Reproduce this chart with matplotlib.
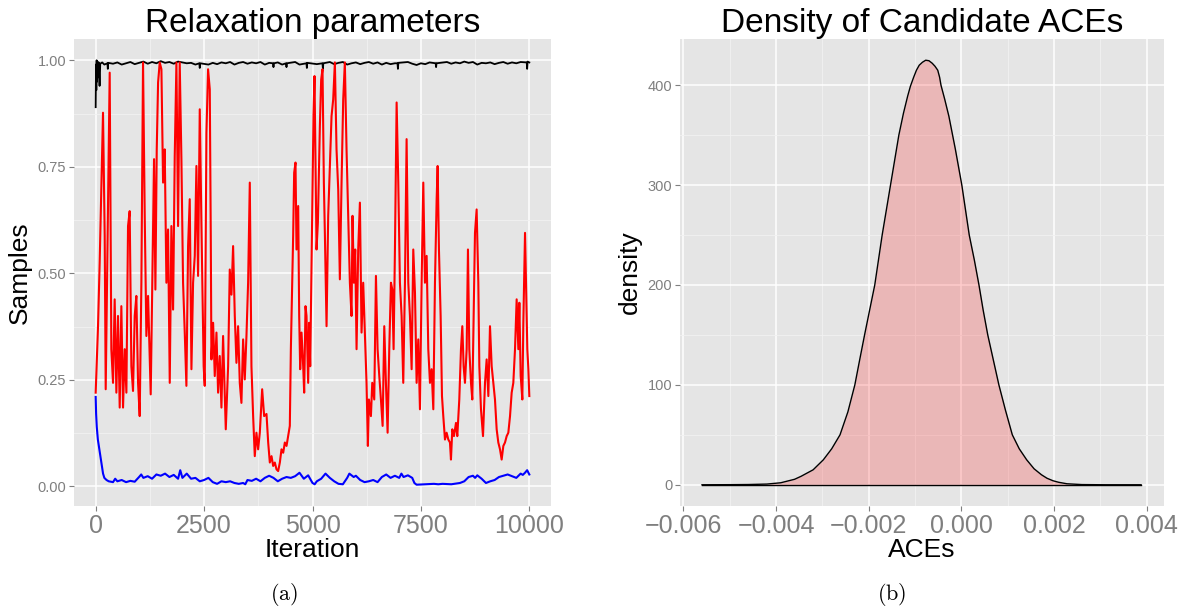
import matplotlib
matplotlib.use("Agg")
import matplotlib.pyplot as plt
from matplotlib.ticker import MultipleLocator

plt.rcParams['font.family'] = ['Liberation Sans', 'DejaVu Sans']
plt.rcParams['mathtext.fontset'] = 'cm'

# ---- panel (a): MCMC traces of the relaxation parameters ----
red_iter = [0, 54, 92, 169, 208, 231, 323, 361, 400, 438, 477, 515, 554, 592, 631, 669, 708,
            746, 784, 823, 861, 900, 938, 977, 1015, 1054, 1092, 1131, 1169, 1208, 1246, 1269,
            1300, 1346, 1377, 1408, 1439, 1477, 1516, 1554, 1592, 1631, 1669, 1708, 1746, 1785,
            1823, 1862, 1900, 1938, 1977, 2015, 2054, 2092, 2131, 2169, 2208, 2246, 2285, 2323,
            2361, 2400, 2438, 2490, 2515, 2554, 2592, 2631, 2654, 2669, 2708, 2746, 2785, 2823,
            2861, 2900, 2938, 2977, 3000, 3054, 3092, 3131, 3169, 3208, 3246, 3284, 3323, 3361,
            3400, 3438, 3477, 3515, 3554, 3592, 3631, 3669, 3707, 3746, 3785, 3839, 3885, 3939,
            3978, 4016, 4055, 4093, 4131, 4170, 4208, 4247, 4285, 4324, 4362, 4401, 4439, 4477,
            4501, 4531, 4554, 4577, 4608, 4631, 4670, 4693, 4716, 4747, 4785, 4808, 4839, 4862,
            4900, 4923, 4947, 4977, 5000, 5023, 5046, 5093, 5124, 5147, 5170, 5200, 5231, 5262,
            5285, 5324, 5362, 5400, 5439, 5477, 5516, 5554, 5593, 5631, 5670, 5708, 5746, 5785,
            5823, 5862, 5900, 5923, 5954, 5985, 6016, 6054, 6093, 6131, 6169, 6208, 6246, 6277,
            6301, 6347, 6378, 6424, 6463, 6501, 6540, 6578, 6617, 6655, 6693, 6732, 6770, 6809,
            6840, 6870, 6901, 6940, 6978, 7016, 7055, 7093, 7132, 7170, 7209, 7247, 7286, 7324,
            7363, 7401, 7439, 7478, 7516, 7555, 7593, 7632, 7670, 7709, 7747, 7786, 7824, 7863,
            7886, 7916, 7955, 7986, 8016, 8055, 8093, 8132, 8170, 8193, 8224, 8262, 8309, 8339,
            8385, 8424, 8455, 8485, 8516, 8555, 8585, 8616, 8655, 8685, 8716, 8747, 8785, 8824,
            8847, 8885, 8932, 8978, 9016, 9055, 9093, 9132, 9170, 9208, 9247, 9285, 9324, 9362,
            9401, 9439, 9478, 9516, 9555, 9593, 9631, 9670, 9708, 9747, 9770, 9801, 9839, 9862,
            9901, 9924, 9954, 9978, 10000]
red_val = [0.22, 0.376, 0.525, 0.877, 0.588, 0.228, 0.971, 0.322, 0.243, 0.439, 0.22, 0.40,
           0.185, 0.423, 0.185, 0.322, 0.22, 0.611, 0.646, 0.282, 0.224, 0.40, 0.447, 0.243,
           0.165, 0.478, 0.995, 0.635, 0.353, 0.447, 0.298, 0.216, 0.439, 0.768, 0.462, 0.791,
           0.948, 0.995, 0.979, 0.713, 0.791, 0.478, 0.603, 0.243, 0.611, 0.415, 0.775, 0.995,
           0.611, 0.995, 0.768, 0.478, 0.361, 0.236, 0.564, 0.674, 0.275, 0.478, 0.541, 0.752,
           0.494, 0.885, 0.619, 0.282, 0.236, 0.83, 0.979, 0.932, 0.588, 0.298, 0.384, 0.259,
           0.361, 0.22, 0.306, 0.185, 0.353, 0.22, 0.134, 0.282, 0.509, 0.45, 0.564, 0.40,
           0.29, 0.376, 0.243, 0.196, 0.345, 0.251, 0.353, 0.478, 0.713, 0.282, 0.165, 0.071,
           0.126, 0.087, 0.126, 0.228, 0.165, 0.17, 0.103, 0.056, 0.071, 0.048, 0.056, 0.04,
           0.036, 0.056, 0.087, 0.079, 0.103, 0.095, 0.118, 0.142, 0.322, 0.478, 0.588, 0.736,
           0.76, 0.556, 0.658, 0.40, 0.275, 0.361, 0.282, 0.22, 0.423, 0.40, 0.243, 0.384,
           0.282, 0.517, 0.713, 0.869, 0.963, 0.556, 0.619, 0.728, 0.846, 0.955, 0.979, 0.713,
           0.595, 0.376, 0.635, 0.752, 0.869, 0.908, 0.995, 0.791, 0.697, 0.486, 0.713, 0.908,
           0.995, 0.791, 0.635, 0.478, 0.40, 0.635, 0.478, 0.556, 0.322, 0.556, 0.666, 0.361,
           0.478, 0.361, 0.243, 0.095, 0.204, 0.165, 0.243, 0.204, 0.494, 0.322, 0.259, 0.204,
           0.142, 0.376, 0.243, 0.126, 0.322, 0.478, 0.462, 0.322, 0.556, 0.901, 0.713, 0.478,
           0.40, 0.243, 0.478, 0.815, 0.478, 0.40, 0.275, 0.556, 0.455, 0.243, 0.345, 0.181,
           0.478, 0.713, 0.478, 0.541, 0.322, 0.243, 0.275, 0.181, 0.478, 0.674, 0.752, 0.556,
           0.40, 0.212, 0.165, 0.11, 0.126, 0.11, 0.103, 0.063, 0.134, 0.118, 0.149, 0.118,
           0.204, 0.322, 0.376, 0.282, 0.243, 0.322, 0.556, 0.322, 0.243, 0.204, 0.40, 0.595,
           0.65, 0.478, 0.282, 0.181, 0.118, 0.243, 0.298, 0.212, 0.376, 0.282, 0.243, 0.204,
           0.134, 0.103, 0.087, 0.063, 0.095, 0.103, 0.118, 0.126, 0.165, 0.22, 0.243, 0.322,
           0.439, 0.322, 0.431, 0.259, 0.204, 0.384, 0.595, 0.478, 0.322, 0.275, 0.212]

black_iter = [0, 8, 15, 22, 30, 40, 55, 70, 90, 105, 150, 200, 270, 280, 290, 400, 500, 600,
              700, 800, 900, 1000, 1100, 1200, 1300, 1400, 1500, 1600, 1700, 1800, 1900, 2000,
              2100, 2200, 2300, 2390, 2400, 2410, 2600, 2700, 2800, 2900, 3000, 3100, 3200,
              3300, 3400, 3500, 3600, 3700, 3800, 3900, 4000, 4090, 4100, 4110, 4200, 4300,
              4390, 4400, 4410, 4600, 4700, 4860, 4870, 4880, 5100, 5230, 5240, 5250, 5400,
              5500, 5600, 5700, 5800, 5900, 6000, 6100, 6200, 6300, 6400, 6500, 6600, 6700,
              6800, 6900, 6960, 6970, 6980, 7200, 7300, 7400, 7500, 7600, 7700, 7840, 7850,
              7860, 8100, 8200, 8300, 8400, 8500, 8600, 8700, 8800, 8900, 9000, 9100, 9200,
              9300, 9400, 9500, 9600, 9700, 9800, 9940, 9950, 9960, 10000]
black_val = [0.89, 0.99, 0.93, 1.0, 0.95, 0.997, 0.96, 0.995, 0.94, 0.992, 0.995, 0.99, 0.993,
             0.98, 0.994, 0.992, 0.995, 0.99, 0.993, 0.996, 0.991, 0.994, 0.997, 0.992, 0.996,
             0.993, 0.998, 0.994, 0.996, 0.992, 0.997, 0.995, 0.993, 0.994, 0.99, 0.993, 0.982,
             0.993, 0.99, 0.994, 0.991, 0.995, 0.993, 0.996, 0.99, 0.994, 0.996, 0.992, 0.995,
             0.993, 0.996, 0.99, 0.994, 0.993, 0.984, 0.993, 0.995, 0.99, 0.993, 0.984, 0.993,
             0.996, 0.99, 0.993, 0.982, 0.994, 0.991, 0.993, 0.98, 0.993, 0.996, 0.991, 0.994,
             0.996, 0.99, 0.993, 0.995, 0.991, 0.994, 0.996, 0.992, 0.995, 0.99, 0.994, 0.991,
             0.993, 0.993, 0.98, 0.994, 0.996, 0.992, 0.989, 0.993, 0.991, 0.995, 0.993, 0.984,
             0.993, 0.996, 0.992, 0.995, 0.993, 0.997, 0.994, 0.996, 0.99, 0.994, 0.993, 0.995,
             0.991, 0.994, 0.996, 0.992, 0.995, 0.993, 0.996, 0.995, 0.98, 0.997, 0.995]

blue_iter = [0, 10, 25, 50, 80, 110, 140, 170, 200, 250, 300, 400, 450, 500, 600, 700, 800,
             900, 1000, 1050, 1100, 1200, 1300, 1400, 1500, 1600, 1700, 1800, 1900, 1950,
             2000, 2100, 2200, 2300, 2400, 2500, 2600, 2700, 2800, 2900, 3000, 3100, 3200,
             3300, 3400, 3450, 3500, 3600, 3700, 3800, 3900, 4000, 4100, 4200, 4300, 4400,
             4500, 4600, 4700, 4800, 4900, 5000, 5050, 5100, 5200, 5300, 5400, 5500, 5600,
             5700, 5800, 5850, 5950, 6000, 6100, 6200, 6300, 6400, 6500, 6600, 6700, 6800,
             6900, 7000, 7050, 7100, 7200, 7300, 7350, 7400, 7600, 7800, 7900, 8000, 8200,
             8400, 8500, 8600, 8700, 8750, 8800, 8900, 9000, 9100, 9200, 9300, 9400, 9500,
             9600, 9700, 9750, 9800, 9850, 9900, 9950, 10000]
blue_val = [0.21, 0.17, 0.14, 0.11, 0.09, 0.07, 0.05, 0.03, 0.02, 0.015, 0.012, 0.01, 0.018,
            0.012, 0.015, 0.01, 0.013, 0.011, 0.022, 0.028, 0.02, 0.024, 0.018, 0.028, 0.025,
            0.03, 0.022, 0.027, 0.018, 0.038, 0.02, 0.03, 0.018, 0.02, 0.012, 0.015, 0.02,
            0.01, 0.006, 0.012, 0.01, 0.012, 0.008, 0.006, 0.008, 0.005, 0.015, 0.013, 0.018,
            0.012, 0.02, 0.025, 0.02, 0.012, 0.018, 0.022, 0.02, 0.024, 0.032, 0.018, 0.026,
            0.008, 0.005, 0.012, 0.018, 0.03, 0.02, 0.012, 0.006, 0.005, 0.02, 0.03, 0.022,
            0.025, 0.015, 0.01, 0.012, 0.015, 0.01, 0.022, 0.028, 0.02, 0.025, 0.02, 0.03,
            0.022, 0.026, 0.02, 0.008, 0.004, 0.005, 0.006, 0.005, 0.006, 0.005, 0.008, 0.012,
            0.022, 0.025, 0.02, 0.026, 0.018, 0.008, 0.012, 0.015, 0.022, 0.025, 0.028, 0.024,
            0.02, 0.025, 0.03, 0.027, 0.032, 0.038, 0.028]

# ---- panel (b): density of candidate ACEs ----
ace_x = [-0.0056, -0.0050, -0.0046, -0.0042, -0.0039, -0.0036, -0.00346, -0.0032, -0.00298,
         -0.0028, -0.00262, -0.00245, -0.0023, -0.0022, -0.00209, -0.00198, -0.00187,
         -0.00179, -0.00171, -0.00162, -0.00153, -0.00144, -0.00135, -0.00125, -0.00116,
         -0.0011, -0.00103, -0.00097, -0.00091, -0.00084, -0.00077, -0.0007, -0.00063,
         -0.00057, -0.00051, -0.00047, -0.00044, -0.00036, -0.00027, -0.00013, 0.00001,
         0.00009, 0.00017, 0.00028, 0.00038, 0.00047, 0.00057, 0.00069, 0.00081, 0.00095,
         0.0011, 0.00125, 0.00141, 0.00157, 0.00173, 0.00185, 0.00198, 0.0021, 0.00228,
         0.0026, 0.0031, 0.00388]
ace_density = [0, 0.1, 0.25, 0.7, 2, 5.5, 8.5, 15, 25, 36, 50, 73, 100, 124, 150, 175, 200,
               225, 250, 275, 300, 325, 350, 372, 389, 399, 408, 415, 420, 423, 425, 424.5,
               422, 419, 415, 408, 400, 386, 369, 336, 300, 275, 250, 225, 200, 175, 150, 125,
               100, 75, 50, 36, 25, 16, 10, 6.5, 4, 2.5, 1, 0.2, 0, 0]

GREY_BG = '#E5E5E5'
TICK_GREY = '#7F7F7F'


def gg_style(ax):
    ax.set_facecolor(GREY_BG)
    for s in ax.spines.values():
        s.set_visible(False)
    ax.grid(True, which='major', color='white', linewidth=1.1)
    ax.grid(True, which='minor', color='#F2F2F2', linewidth=0.6)
    ax.set_axisbelow(True)
    ax.tick_params(which='major', direction='out', length=3.5, width=0.8, color=TICK_GREY,
                   labelcolor=TICK_GREY, pad=2)
    ax.tick_params(which='minor', length=0)


fig = plt.figure(figsize=(11.78, 6.08), dpi=100)

ax1 = fig.add_axes([74 / 1178, 1 - 506 / 608, 477 / 1178, 467 / 608])
gg_style(ax1)
ax1.plot(black_iter, black_val, color='black', lw=1.3)
ax1.plot(red_iter, red_val, color='red', lw=1.5)
ax1.plot(blue_iter, blue_val, color='blue', lw=1.5)
ax1.set_xlim(-500, 10500)
ax1.set_ylim(-0.046, 1.05)
ax1.xaxis.set_major_locator(MultipleLocator(2500))
ax1.xaxis.set_minor_locator(MultipleLocator(1250))
ax1.yaxis.set_major_locator(MultipleLocator(0.25))
ax1.yaxis.set_minor_locator(MultipleLocator(0.125))
ax1.yaxis.set_major_formatter(matplotlib.ticker.FormatStrFormatter('%.2f'))
ax1.tick_params(axis='x', labelsize=18)
ax1.tick_params(axis='y', labelsize=10.5)
ax1.set_xlabel('Iteration', fontsize=19, labelpad=0)
ax1.set_ylabel('Samples', fontsize=19, labelpad=4)
ax1.set_title('Relaxation parameters', fontsize=24, pad=2)

ax2 = fig.add_axes([680 / 1178, 1 - 506 / 608, 484 / 1178, 467 / 608])
gg_style(ax2)
ax2.fill_between(ace_x, ace_density, 0, color='red', alpha=0.2, lw=0)
ax2.plot(ace_x, ace_density, color='black', lw=1.0)
ax2.plot([ace_x[0], ace_x[-1]], [0, 0], color='black', lw=1.0)
ax2.set_xlim(-0.006075, 0.004375)
ax2.set_ylim(-21.25, 446.25)
ax2.xaxis.set_major_locator(MultipleLocator(0.002))
ax2.xaxis.set_minor_locator(MultipleLocator(0.001))
ax2.yaxis.set_major_locator(MultipleLocator(100))
ax2.yaxis.set_minor_locator(MultipleLocator(50))
ax2.xaxis.set_major_formatter(matplotlib.ticker.FuncFormatter(
    lambda v, p: f'{v:.3f}'.replace('-', '\u2212') if abs(v) > 1e-9 else '0.000'))
ax2.tick_params(axis='x', labelsize=18)
ax2.tick_params(axis='y', labelsize=10.5)
ax2.set_xlabel('ACEs', fontsize=19, labelpad=0)
ax2.set_ylabel('density', fontsize=19, labelpad=4)
ax2.set_title('Density of Candidate ACEs', fontsize=24, pad=2)

fig.text(284 / 1178, 1 - 594 / 608, r'$\mathrm{(a)}$', fontsize=16, ha='center', va='center')
fig.text(892 / 1178, 1 - 594 / 608, r'$\mathrm{(b)}$', fontsize=16, ha='center', va='center')

fig.savefig('out.png', dpi=100)
